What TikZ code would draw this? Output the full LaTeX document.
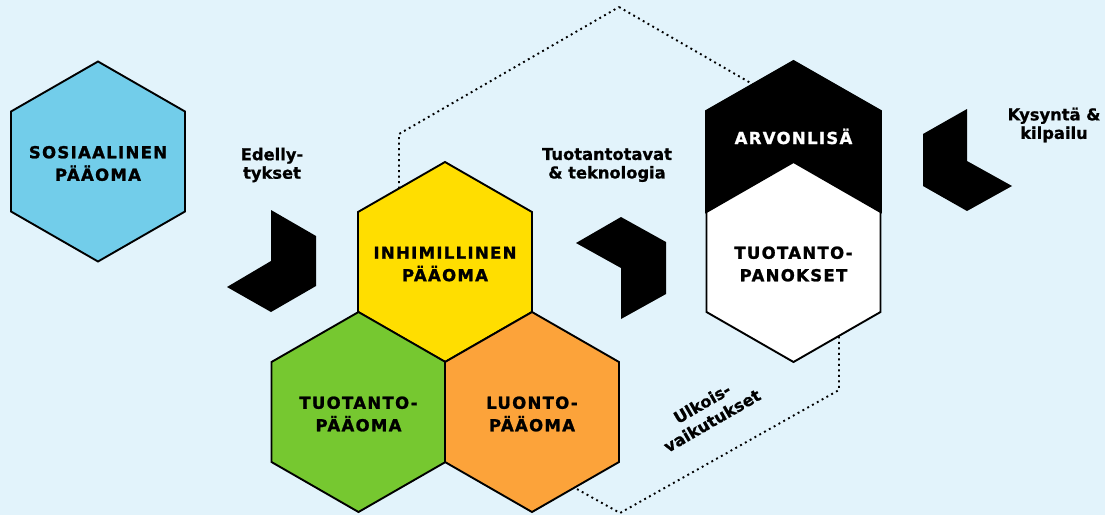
\documentclass[tikz,border=0pt]{standalone}
\usepackage{fontspec}
\setmainfont{DejaVu Sans}[BoldFeatures={FakeBold=0.8}]
\newfontfamily\capsfont{DejaVu Sans}[LetterSpace=8,BoldFeatures={FakeBold=1.4}]
\definecolor{bg}{HTML}{E2F3FB}
\definecolor{hexblue}{HTML}{72CDEA}
\definecolor{hexyellow}{HTML}{FFDE00}
\definecolor{hexgreen}{HTML}{76C830}
\definecolor{hexorange}{HTML}{FCA33A}
\def\hexpath#1#2{({#1},{#2-100}) -- ({#1+87},{#2-50}) -- ({#1+87},{#2+50}) -- ({#1},{#2+100}) -- ({#1-87},{#2+50}) -- ({#1-87},{#2-50}) -- cycle}
\begin{document}
\begin{tikzpicture}[x=1pt,y=-1pt,
  hexline/.style={draw=black,line width=1.9pt,line join=miter},
  captext/.style={font=\capsfont\bfseries\fontsize{16.5}{22.5}\selectfont,align=center,text=black,inner sep=0pt},
  labtext/.style={font=\bfseries\fontsize{16.3}{18.5}\selectfont,align=center,text=black,inner sep=0pt},
  chev/.style={fill=black},
  dotline/.style={draw=black,line width=1.9pt,dash pattern=on 1.9pt off 3.6pt}]
\fill[bg] (0,0) rectangle (1105,515);
\useasboundingbox (0,0) rectangle (1105,515);
% big dotted hexagon
\draw[dotline] (619,7) -- (839,134) -- (839,390) -- (620,513) -- (399,390) -- (399,134) -- cycle;
% hexagons
\path[hexline,fill=hexblue] \hexpath{98}{161.5};
\path[hexline,fill=hexyellow] \hexpath{445}{262};
\path[hexline,fill=hexgreen] \hexpath{358.5}{412};
\path[hexline,fill=hexorange] \hexpath{532}{412};
% arvonlisa / tuotantopanokset
\path[hexline,fill=black] (706,111) -- (793.5,61) -- (881,111) -- (881,212) -- (793.5,162) -- (706,212) -- cycle;
\path[hexline,fill=white] \hexpath{793.5}{262};
% chevrons
\fill[chev] (271,210) -- (316,236) -- (316,286) -- (271,312) -- (227,287) -- (271,261) -- cycle;
\fill[chev] (621,217) -- (666,242) -- (666,294) -- (621,319) -- (621,268) -- (576,243) -- cycle;
\fill[chev] (967,109) -- (967,161) -- (1012,186) -- (967,211) -- (923,186) -- (923,134) -- cycle;
% texts
\node[captext] (sos) at (98,163.5) {SOSIAALINEN\\PÄÄOMA};
\node[captext] (inh) at (445,264) {INHIMILLINEN\\PÄÄOMA};
\node[captext] (tuo) at (358.5,414) {TUOTANTO-\\PÄÄOMA};
\node[captext] (luo) at (532,414) {LUONTO-\\PÄÄOMA};
\node[captext,anchor=base,text=white] (arv) at (793.5,144) {ARVONLISÄ};
\node[captext] (pan) at (793.5,264) {TUOTANTO-\\PANOKSET};
\node[labtext] (edel) at (272,165) {Edelly-\\tykset};
\node[labtext] (tek) at (607,165) {Tuotantotavat\\\&~teknologia};
\node[labtext] (kys) at (1054,125) {Kysyntä \&\\kilpailu};
\node[labtext,font=\bfseries\fontsize{16.3}{20}\selectfont,rotate=30] (ulk) at (707,412) {Ulkois-\\vaikutukset};
\end{tikzpicture}
\end{document}
